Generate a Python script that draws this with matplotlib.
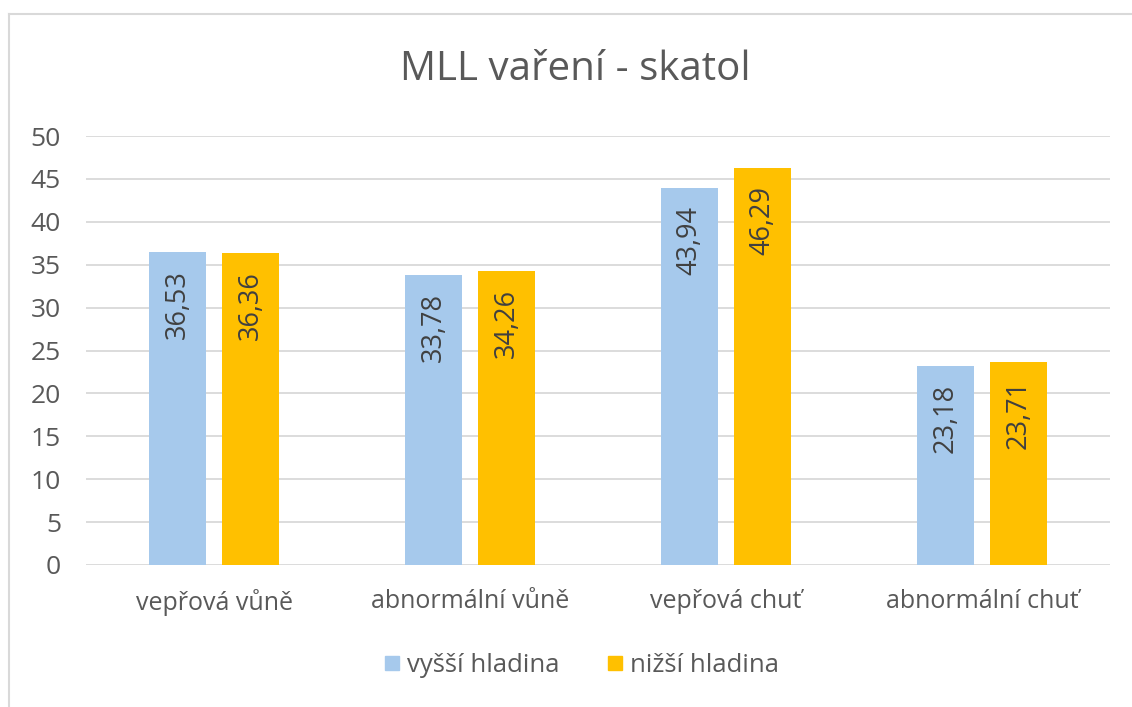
import matplotlib
matplotlib.use("Agg")
import matplotlib.pyplot as plt
import numpy as np
from matplotlib.lines import Line2D

categories = ["vepřová vůně", "abnormální vůně", "vepřová chuť", "abnormální chuť"]
series_names = ["vyšší hladina", "nižší hladina"]
vyssi = [36.53, 33.78, 43.94, 23.18]
nizsi = [36.36, 34.26, 46.29, 23.71]
yticks = [0, 5, 10, 15, 20, 25, 30, 35, 40, 45, 50]

plt.rcParams['font.family'] = ['Open Sans', 'DejaVu Sans']
text_color = "#595959"
grid_color = "#D9D9D9"
colors = ["#A6C9EC", "#FFC000"]

fig = plt.figure(figsize=(11.32, 7.07), dpi=100)
ax = fig.add_axes([86/1132, 1-565/707, (1110-86)/1132, (565-136)/707])

x = np.arange(len(categories))
w = 0.222
off = 0.143
for vals, sign, col in [(vyssi, -1, colors[0]), (nizsi, 1, colors[1])]:
    bars = ax.bar(x + sign*off, vals, width=w, color=col, zorder=2)
    for b, v in zip(bars, vals):
        ax.annotate(f"{v:.2f}".replace(".", ","), xy=(b.get_x()+b.get_width()/2, v),
                    xytext=(0, -13), textcoords="offset points", rotation=90,
                    ha="center", va="top", fontsize=19.5, color="#404040")

ax.set_xlim(-0.5, 3.5)
ax.set_ylim(0, 50)
ax.set_yticks(yticks)
ax.set_xticks(x)
ax.set_xticklabels(categories)
ax.tick_params(axis="both", length=0, colors=text_color)
ax.tick_params(axis="y", pad=18, labelsize=19)
ax.tick_params(axis="x", pad=17, labelsize=18)
ax.grid(axis="y", color=grid_color, linewidth=1.3, zorder=0)
for s in ax.spines.values():
    s.set_visible(False)

fig.text(575/1132, 1-70/707, "MLL vaření - skatol", ha="center", va="center",
         fontsize=29, color=text_color)

handles = [Line2D([], [], marker="s", linestyle="none", markersize=10.5,
                  markerfacecolor=c, markeredgecolor=c) for c in colors]
fig.legend(handles, series_names, loc="center", bbox_to_anchor=(581/1132, 1-665/707),
           ncol=2, frameon=False, fontsize=18.5, labelcolor=text_color,
           handletextpad=0.25, columnspacing=1.8, handlelength=0.7)

# outer frame (top and left visible)
fig.add_artist(Line2D([9/1132, 1], [1-14/707, 1-14/707], transform=fig.transFigure,
                      color="#D9D9D9", linewidth=1.5))
fig.add_artist(Line2D([9/1132, 9/1132], [0, 1-14/707], transform=fig.transFigure,
                      color="#D9D9D9", linewidth=1.5))

fig.savefig("out.png", dpi=100)
